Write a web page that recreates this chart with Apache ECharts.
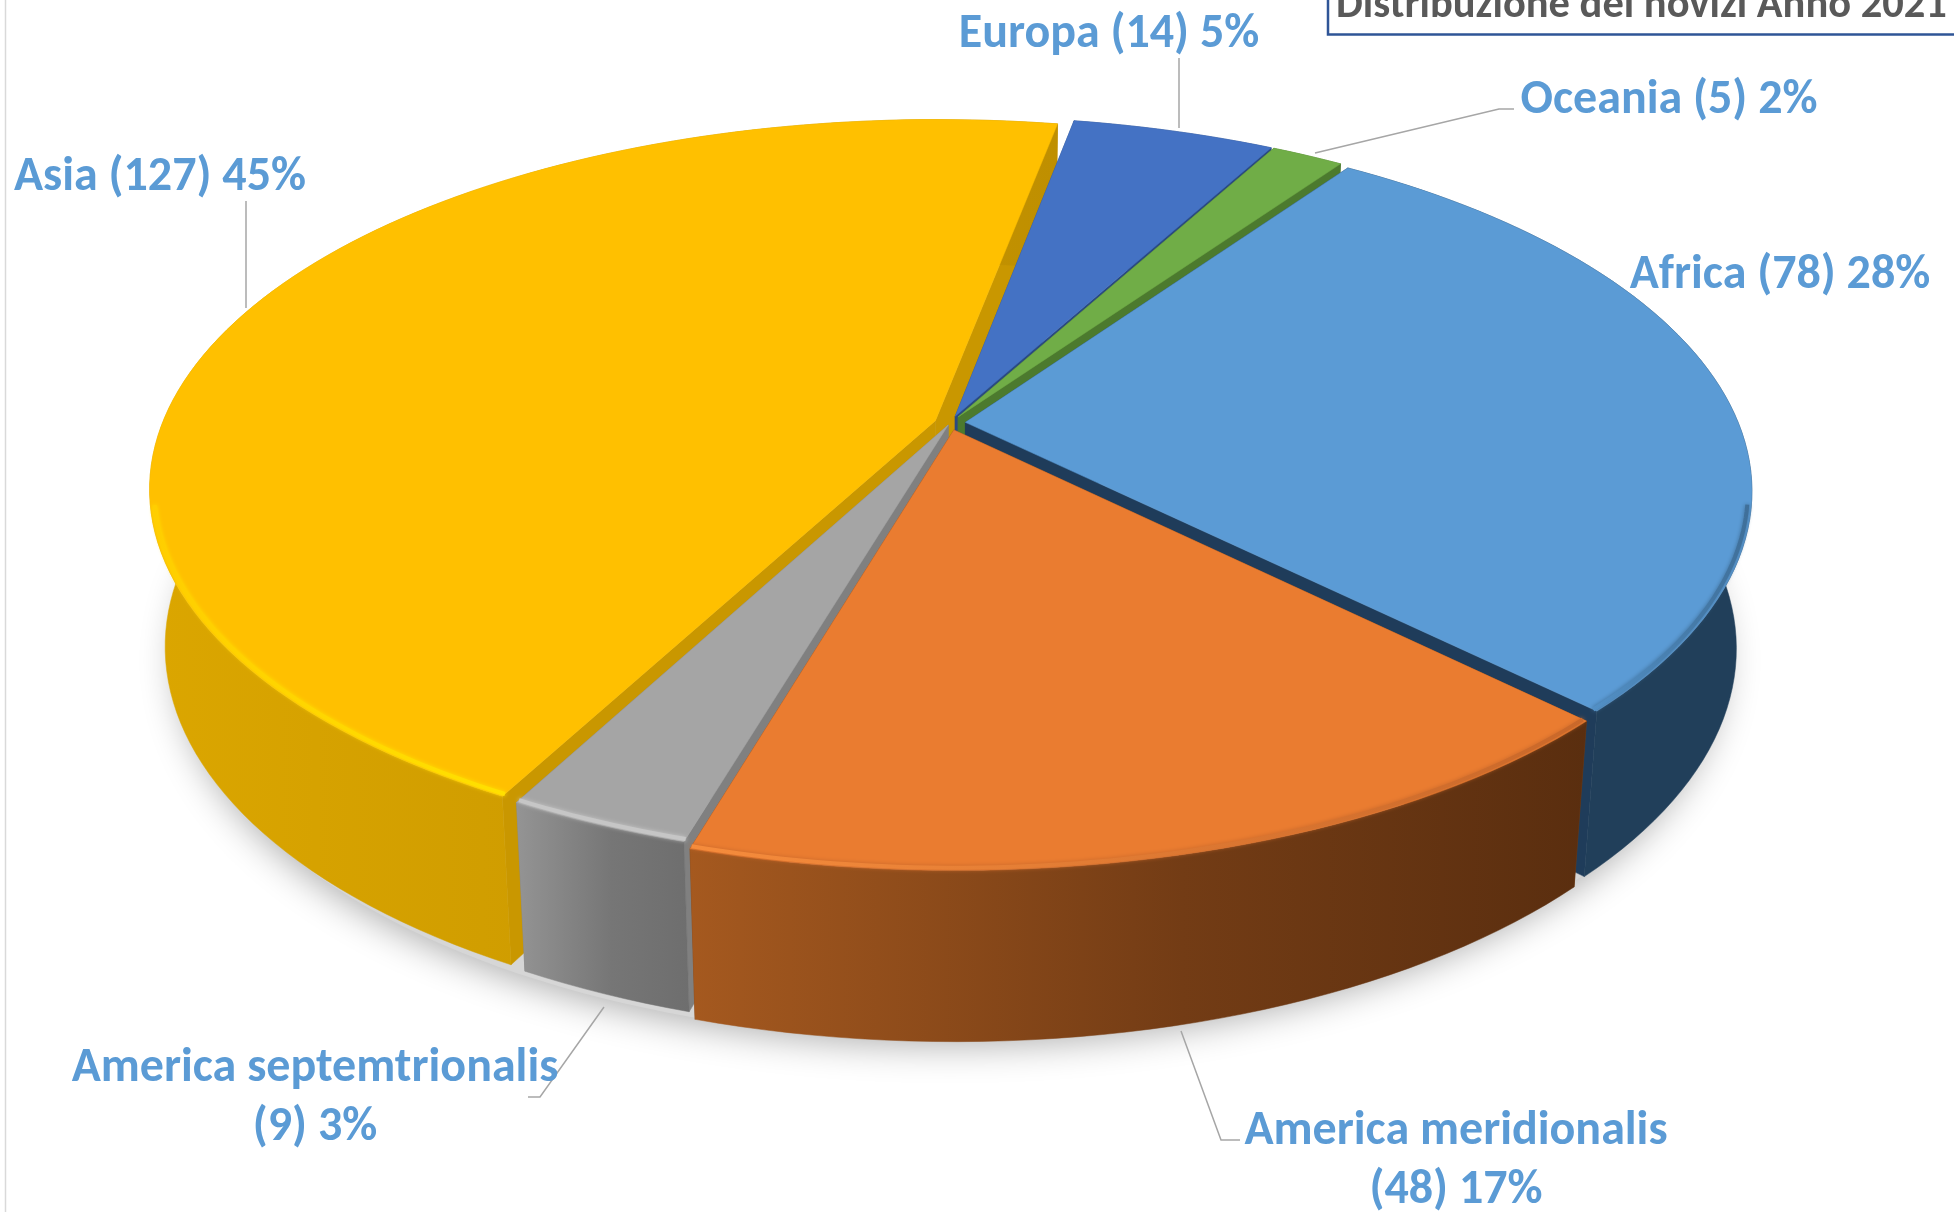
<!DOCTYPE html>
<html>
<head>
<meta charset="utf-8">
<title>Distribuzione dei novizi Anno 2021</title>
<style>
  html, body { margin: 0; padding: 0; background: #fff; }
  #chart { width: 1954px; height: 1212px; }
</style>
<script src="https://cdn.jsdelivr.net/npm/echarts@6/dist/echarts.min.js"></script>
</head>
<body>
<div id="chart"></div>
<script>
// Data, clockwise from the Africa slice
const categories = ['Africa', 'America meridionalis', 'America septemtrionalis', 'Asia', 'Europa', 'Oceania'];
const values = [78, 48, 9, 127, 14, 5];
const chartTitle = 'Distribuzione dei novizi Anno 2021';

// Slice styling, same order as categories
const topColors = ['#5b9bd5', '#ea7c30', '#a5a5a5', '#ffc000', '#4472c4', '#70ad47'];
const edgeColors = ['#1f3c5a', '#7a4218', '#808080', '#c99700', '#2a4a80', '#4c7a2e'];
const wallLeft = ['#213f5a', '#a5591f', '#949494', '#dba600', '#2a4a80', '#4c7a2e'];
const wallMid = ['#213f5a', '#733c15', '#767676', '#cc9a00', '#2a4a80', '#4c7a2e'];
const wallRight = ['#213f5a', '#5a2e0f', '#6e6e6e', '#bf8f00', '#2a4a80', '#4c7a2e'];
const rimLeft = ['#5290c6', '#f68c3c', '#c6c6c6', '#ffce00', null, null];
const rimRight = ['#3f6f99', '#c9682a', '#c6c6c6', '#ffe000', null, null];

// Back to front, so nearer slices cover the side walls of their neighbours
const paintOrder = [3, 4, 5, 0, 2, 1];

// Projection of the tilted disc
const startDeg = 34.9;
const explodeBy = [0.02, 0.02, 0.006, 0.02, 0.02, 0.02];
const topPlane = { x0: 950, y0: 423, k: 773, kq: 357, p: 0.183 };
const bottomPlane = { x0: 950, y0: 578, k: 758, kq: 370, p: 0.183 };

// Label placement: centre x, centre y of the first line, line break after the name
const labelLayout = [
  { x: 1780, y: 276, wrap: false },
  { x: 1456, y: 1132, wrap: true },
  { x: 315, y: 1069, wrap: true },
  { x: 160, y: 178, wrap: false },
  { x: 1109, y: 35, wrap: false },
  { x: 1669, y: 101, wrap: false }
];
const leaderLines = [
  null,
  [[1181, 1031], [1221, 1140], [1240, 1140]],
  [[604, 1007], [540, 1097], [528, 1097]],
  [[246, 201], [246, 308]],
  [[1179, 58], [1179, 128]],
  [[1514, 109], [1499, 109], [1315, 153]]
];

const labelFont = 'Carlito, Calibri, Lato, sans-serif';
const total = values.reduce((a, b) => a + b, 0);

// Start and end angle of each slice, clockwise from the back of the disc
const spans = [];
let running = startDeg;
values.forEach((v) => {
  const sweep = v / total * 360;
  spans.push([running, running + sweep]);
  running += sweep;
});

function project(plane, u, v) {
  const d = 1 - plane.p * v;
  return [plane.x0 + plane.k * u / d, plane.y0 + plane.kq * v / d];
}

function polar(deg, r) {
  const a = deg * Math.PI / 180;
  return [r * Math.sin(a), -r * Math.cos(a)];
}

function slicePoint(plane, deg, r, off) {
  const p = polar(deg, r);
  return project(plane, p[0] + off[0], p[1] + off[1]);
}

function arc(plane, from, to, r, off) {
  const pts = [];
  const steps = Math.max(4, Math.ceil((to - from) / 1.5));
  for (let i = 0; i <= steps; i++) {
    pts.push(slicePoint(plane, from + (to - from) * i / steps, r, off));
  }
  return pts;
}

function poly(points, fill) {
  return { type: 'polygon', shape: { points: points }, style: { fill: fill, stroke: fill, lineWidth: 0.5 } };
}

function renderSlice(params, api) {
  const idx = api.value(1);
  const from = spans[idx][0];
  const to = spans[idx][1];
  const off = polar((from + to) / 2, explodeBy[idx]);

  const topArc = arc(topPlane, from, to, 1, off);
  const bottomArc = arc(bottomPlane, from, to, 1, off);
  const topApex = slicePoint(topPlane, 0, 0, off);
  const bottomApex = slicePoint(bottomPlane, 0, 0, off);

  const wallFill = {
    type: 'linear', x: 0, y: 0, x2: 1, y2: 0,
    colorStops: [
      { offset: 0, color: wallLeft[idx] },
      { offset: 0.55, color: wallMid[idx] },
      { offset: 1, color: wallRight[idx] }
    ]
  };

  // Cut faces first, the outer wall must stay in front of them
  const children = [
    poly([topApex, topArc[0], bottomArc[0], bottomApex], edgeColors[idx]),
    poly([topApex, topArc[topArc.length - 1], bottomArc[bottomArc.length - 1], bottomApex], edgeColors[idx]),
    poly(topArc.concat(bottomArc.slice().reverse()), wallFill),
    poly([topApex].concat(topArc), topColors[idx])
  ];

  // Bevel highlight on the part of the rim that faces the viewer
  if (rimLeft[idx]) {
    const rim = [];
    const steps = Math.ceil(to - from);
    for (let i = 0; i <= steps; i++) {
      const deg = from + (to - from) * i / steps;
      if (polar(deg, 1)[1] > 0.22) rim.push(slicePoint(topPlane, deg, 0.995, off));
    }
    if (rim.length > 1) {
      children.push({
        type: 'polyline',
        shape: { points: rim },
        style: {
          fill: null, lineWidth: 4, shadowBlur: 4, shadowColor: rimRight[idx],
          stroke: {
            type: 'linear', x: 0, y: 0, x2: 1, y2: 0,
            colorStops: [{ offset: 0, color: rimLeft[idx] }, { offset: 1, color: rimRight[idx] }]
          }
        }
      });
    }
  }
  return { type: 'group', children: children };
}

const chart = echarts.init(document.getElementById('chart'), null, { renderer: 'canvas' });

const graphics = [
  // Soft ground shadow under the disc
  {
    type: 'polygon',
    z: 0,
    shape: { points: arc(bottomPlane, 0, 360, 1.0, [0, 0.015]) },
    style: { fill: '#d6d6d6', shadowBlur: 36, shadowColor: 'rgba(0,0,0,0.32)', shadowOffsetY: 6 }
  },
  // Left frame line
  { type: 'line', z: 0, shape: { x1: 5.5, y1: 0, x2: 5.5, y2: 1212 }, style: { stroke: '#d9d9d9', lineWidth: 1.5 } },
  // Title box, cut by the top and right of the picture
  { type: 'polyline', z: 10, shape: { points: [[1328, 0], [1328, 34.5], [1954, 34.5]] }, style: { fill: null, stroke: '#2f5597', lineWidth: 2.5 } },
  {
    type: 'text', z: 11, x: 1336, y: 28,
    style: { text: chartTitle, font: 'bold 42.5px ' + labelFont, fill: '#595959', verticalAlign: 'bottom' }
  }
];

leaderLines.forEach((pts) => {
  if (!pts) return;
  graphics.push({ type: 'polyline', z: 10, shape: { points: pts }, style: { fill: null, stroke: '#a6a6a6', lineWidth: 1.5 } });
});

categories.forEach((name, i) => {
  const pct = Math.round(values[i] / total * 100);
  const tail = '(' + values[i] + ') ' + pct + '%';
  const pos = labelLayout[i];
  const lines = pos.wrap ? [name, tail] : [name + ' ' + tail];
  lines.forEach((line, n) => {
    graphics.push({
      type: 'text', z: 11, x: pos.x, y: pos.y + n * 59,
      style: { text: line, font: 'bold 48px ' + labelFont, fill: '#5b9bd5', align: 'center', verticalAlign: 'middle' }
    });
  });
});

chart.setOption({
  animation: false,
  backgroundColor: '#ffffff',
  graphic: graphics,
  series: [{
    type: 'custom',
    coordinateSystem: 'none',
    silent: true,
    z: 2,
    renderItem: renderSlice,
    data: paintOrder.map((i) => [values[i], i])
  }]
});
</script>
</body>
</html>
